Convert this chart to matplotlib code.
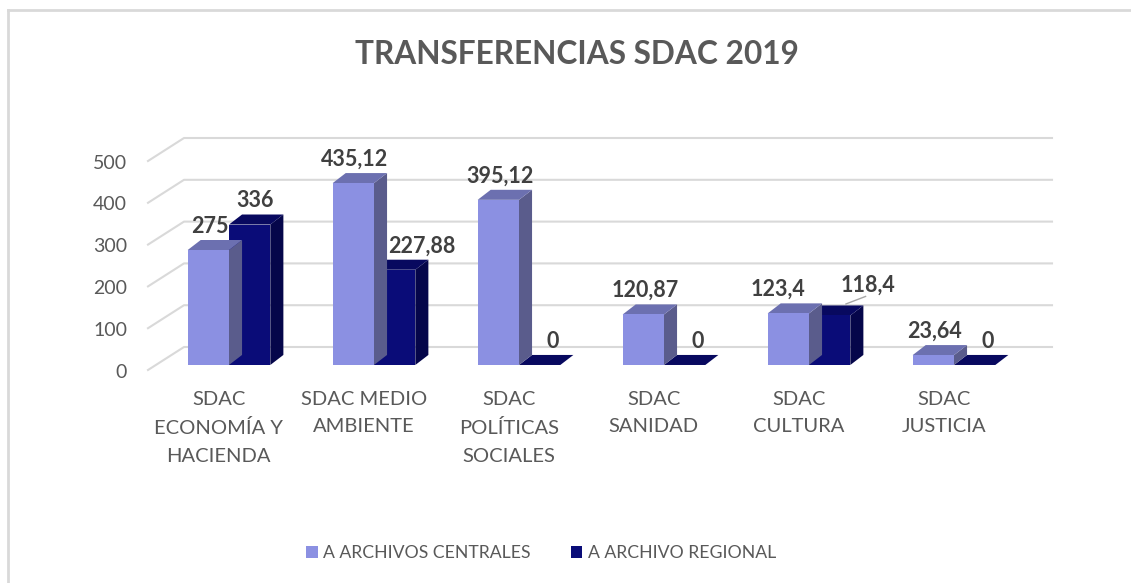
import numpy as np
import matplotlib.pyplot as plt
from matplotlib.patches import Polygon

plt.rcParams['font.family'] = ['Lato', 'DejaVu Sans']

categorias = ['SDAC\nECONOMÍA Y\nHACIENDA', 'SDAC MEDIO\nAMBIENTE', 'SDAC\nPOLÍTICAS\nSOCIALES',
              'SDAC\nSANIDAD', 'SDAC\nCULTURA', 'SDAC\nJUSTICIA']
centrales = [275, 435.12, 395.12, 120.87, 123.4, 23.64]
regional = [336, 227.88, 0, 0, 118.4, 0]
etiq_centrales = ['275', '435,12', '395,12', '120,87', '123,4', '23,64']
etiq_regional = ['336', '227,88', '0', '0', '118,4', '0']
yticks = [0, 100, 200, 300, 400, 500]
series = ['A ARCHIVOS CENTRALES', 'A ARCHIVO REGIONAL']

gris = '#595959'
# front, top, side colours of each series
col_c = ('#8B90E2', '#6C70B0', '#5A5C8C')
col_r = ('#0A0C78', '#08095F', '#05064A')

# pixel mapping: x_px = 229 + 145*x ; row = 370 - 0.418*v
W, H = 1131, 583
fig = plt.figure(figsize=(W / 100, H / 100), dpi=100)
ax = fig.add_axes([0, 0, 1, 1])
ax.set_xlim(-229 / 145, (W - 229) / 145)
ax.set_ylim((370 - H) / 0.418, 370 / 0.418)
ax.axis('off')

# frame lines
fig.add_artist(plt.Line2D([8 / W, 8 / W], [0, 1 - 10 / H], color='#D9D9D9', lw=2))
fig.add_artist(plt.Line2D([8 / W, 1], [1 - 10 / H, 1 - 10 / H], color='#D9D9D9', lw=2))

# back wall + floor-side gridlines
xl, xb, xr = (148 - 229) / 145, (184 - 229) / 145, (1052 - 229) / 145
wall = 55
for v in yticks:
    ax.plot([xl, xb, xr], [v, v + wall, v + wall], color='#D9D9D9', lw=1.5, zorder=1)
    ax.text((127 - 229) / 145, v - 5, str(v), ha='right', va='center', fontsize=14, color=gris)

x = np.arange(len(categorias))
w = 0.285
base = 12
ddx, ddy = 0.09, 24


def caja(xc, val, cols, z):
    x0, x1 = xc - w / 2, xc + w / 2
    y0, y1 = base, base + val
    ax.add_patch(Polygon([(x1, y0), (x1 + ddx, y0 + ddy), (x1 + ddx, y1 + ddy), (x1, y1)],
                         closed=True, fc=cols[2], ec='none', zorder=z))
    ax.add_patch(Polygon([(x0, y1), (x0 + ddx, y1 + ddy), (x1 + ddx, y1 + ddy), (x1, y1)],
                         closed=True, fc=cols[1], ec='none', zorder=z))


for i in range(len(categorias)):
    caja(x[i] + w / 2, regional[i], col_r, 2)
    caja(x[i] - w / 2, centrales[i], col_c, 4)
bc = ax.bar(x - w / 2, centrales, w, bottom=base, color=col_c[0], zorder=5, label=series[0])
br = ax.bar(x + w / 2, regional, w, bottom=base, color=col_r[0], zorder=3, label=series[1])

# data labels
off = 69
for i in range(len(categorias)):
    xc = x[i] - w / 2 + 0.01
    xr_ = x[i] + w / 2 + 0.04
    yr = regional[i] + off
    if regional[i] == 0:
        xr_ += 0.05
    if i == 1:
        xr_ += 0.15
    if i == 4:
        xc -= 0.08
        xr_ = x[i] + 0.41
        yr = centrales[i] + off + 10
        ax.plot([x[i] + 0.255, x[i] + 0.39], [158, 176], color='#A6A6A6', lw=1, zorder=6)
    ax.text(xc, centrales[i] + off, etiq_centrales[i], ha='center', va='center',
            fontsize=15.5, fontweight='bold', color='#404040', zorder=7)
    ax.text(xr_, yr, etiq_regional[i], ha='center', va='center',
            fontsize=15.5, fontweight='bold', color='#404040', zorder=7)

# category labels
for i, c in enumerate(categorias):
    ax.text(x[i] - 0.07, (370 - 391) / 0.418, c, ha='center', va='top', fontsize=14.5,
            color=gris, linespacing=1.75)

fig.text(577 / W, 1 - 54 / H, 'TRANSFERENCIAS SDAC 2019', ha='center', va='center',
         fontsize=22.8, fontweight='bold', color=gris)

fig.legend(handles=[bc, br], labels=series, loc='center', bbox_to_anchor=(541 / W, 1 - 553 / H),
           ncol=2, frameon=False, fontsize=12.7, handlelength=0.65, handleheight=0.65,
           handletextpad=0.3, columnspacing=2.3, labelcolor=gris)

fig.savefig('out.png', dpi=100)
